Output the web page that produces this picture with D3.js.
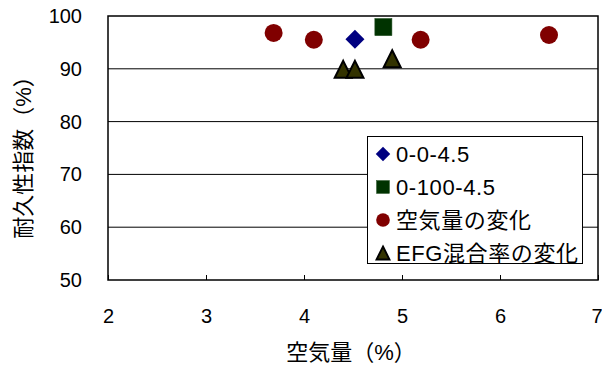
<!DOCTYPE html>
<html>
<head>
<meta charset="utf-8">
<script src="https://cdn.jsdelivr.net/npm/d3@7"></script>
<style>
  html, body { margin: 0; padding: 0; background: #fff; }
  svg { display: block; }
  text { font-family: "Liberation Sans", "Noto Sans CJK JP", sans-serif; fill: #000; }
</style>
</head>
<body>
<svg id="chart" width="602" height="365"></svg>
<script>
// Durability index vs. air content, four series
const xTicks = [2, 3, 4, 5, 6, 7];
const yTicks = [50, 60, 70, 80, 90, 100];

const seriesNames = ["0-0-4.5", "0-100-4.5", "空気量の変化", "EFG混合率の変化"];
const seriesShapes = ["diamond", "square", "circle", "triangle"];
const seriesColors = ["#000080", "#003300", "#800000", "#333300"];

const diamondX = [4.52];
const diamondY = [95.6];
const squareX = [4.81];
const squareY = [97.9];
const circleX = [3.69, 4.10, 5.19, 6.50];
const circleY = [96.8, 95.5, 95.5, 96.4];
const triangleX = [4.40, 4.52, 4.90];
const triangleY = [89.9, 89.9, 91.9];

const seriesX = [diamondX, squareX, circleX, triangleX];
const seriesY = [diamondY, squareY, circleY, triangleY];

const margin = { left: 108, top: 16, right: 4, bottom: 85 };
const width = 602, height = 365;
const svg = d3.select("#chart");

const x = d3.scaleLinear().domain([2, 7]).range([margin.left, width - margin.right]);
const y = d3.scaleLinear().domain([50, 100]).range([height - margin.bottom, margin.top]);

// horizontal gridlines
svg.append("g")
  .selectAll("line")
  .data(yTicks.slice(1, -1))
  .join("line")
  .attr("x1", x(2)).attr("x2", x(7))
  .attr("y1", d => y(d)).attr("y2", d => y(d))
  .attr("stroke", "#000").attr("stroke-width", 1);

// x axis: inward ticks, labels below
const xAxis = svg.append("g")
  .attr("transform", `translate(0,${y(50)})`)
  .call(d3.axisBottom(x).tickValues(xTicks).tickSize(-5).tickPadding(0).tickFormat(d3.format("d")));
xAxis.select(".domain").remove();
xAxis.selectAll("line").attr("stroke", "#000");
xAxis.selectAll("text")
  .attr("y", 43).attr("dy", null)
  .style("font-size", "20px").attr("font-family", null);
// last label sits against the right edge of the page
xAxis.selectAll(".tick").filter(d => d === 7).select("text")
  .attr("text-anchor", "end").attr("x", 4);

// y axis labels
const yAxis = svg.append("g")
  .attr("transform", `translate(${x(2)},0)`)
  .call(d3.axisLeft(y).tickValues(yTicks).tickSize(0).tickPadding(26).tickFormat(d3.format("d")));
yAxis.select(".domain").remove();
yAxis.selectAll("text").style("font-size", "20px").attr("font-family", null);

// plot frame
svg.append("rect")
  .attr("x", x(2)).attr("y", y(100))
  .attr("width", x(7) - x(2)).attr("height", y(50) - y(100))
  .attr("fill", "none").attr("stroke", "#000").attr("stroke-width", 1.5);

// axis titles
svg.append("text")
  .attr("x", 351).attr("y", 360)
  .attr("text-anchor", "middle")
  .style("font-size", "22px")
  .text("空気量（%）");

svg.append("text")
  .attr("transform", "translate(31,152) rotate(-90)")
  .attr("text-anchor", "middle")
  .style("font-size", "22px")
  .text("耐久性指数（%）");

// marker shapes
function marker(sel, shape, color) {
  if (shape === "diamond") {
    sel.append("path").attr("d", "M0,-9.5L9.5,0L0,9.5L-9.5,0Z").attr("fill", color);
  } else if (shape === "square") {
    sel.append("rect").attr("x", -8.5).attr("y", -8.5).attr("width", 17).attr("height", 17)
      .attr("fill", color).attr("stroke", "#1c4a1c").attr("stroke-width", 0.6);
  } else if (shape === "circle") {
    sel.append("circle").attr("r", 9).attr("fill", color);
  } else {
    sel.append("path").attr("d", "M0,-8.5L8.5,8.5L-8.5,8.5Z")
      .attr("fill", color).attr("stroke", "#000").attr("stroke-width", 2).attr("stroke-linejoin", "miter");
  }
}

const plot = svg.append("g");
seriesNames.forEach((name, i) => {
  const pts = seriesX[i].map((v, j) => [v, seriesY[i][j]]);
  plot.selectAll(null)
    .data(pts)
    .join("g")
    .attr("transform", d => `translate(${x(d[0])},${y(d[1])})`)
    .each(function () { marker(d3.select(this), seriesShapes[i], seriesColors[i]); });
});

// legend
const legend = svg.append("g");
legend.append("rect")
  .attr("x", 367.5).attr("y", 136.5).attr("width", 215).attr("height", 127)
  .attr("fill", "#fff").attr("stroke", "#000").attr("stroke-width", 1);

seriesNames.forEach((name, i) => {
  const cy = 154 + i * 33;
  const g = legend.append("g").attr("transform", `translate(383,${cy})`);
  const inner = g.append("g").attr("transform", "scale(0.76)");
  marker(inner, seriesShapes[i], seriesColors[i]);
  if (seriesShapes[i] === "triangle") inner.select("path").attr("stroke-width", 2.5);
  legend.append("text")
    .attr("x", 396).attr("y", cy)
    .attr("dy", "0.36em")
    .style("font-size", "22px")
    .style("letter-spacing", "0.6px")
    .text(name);
});
</script>
</body>
</html>
